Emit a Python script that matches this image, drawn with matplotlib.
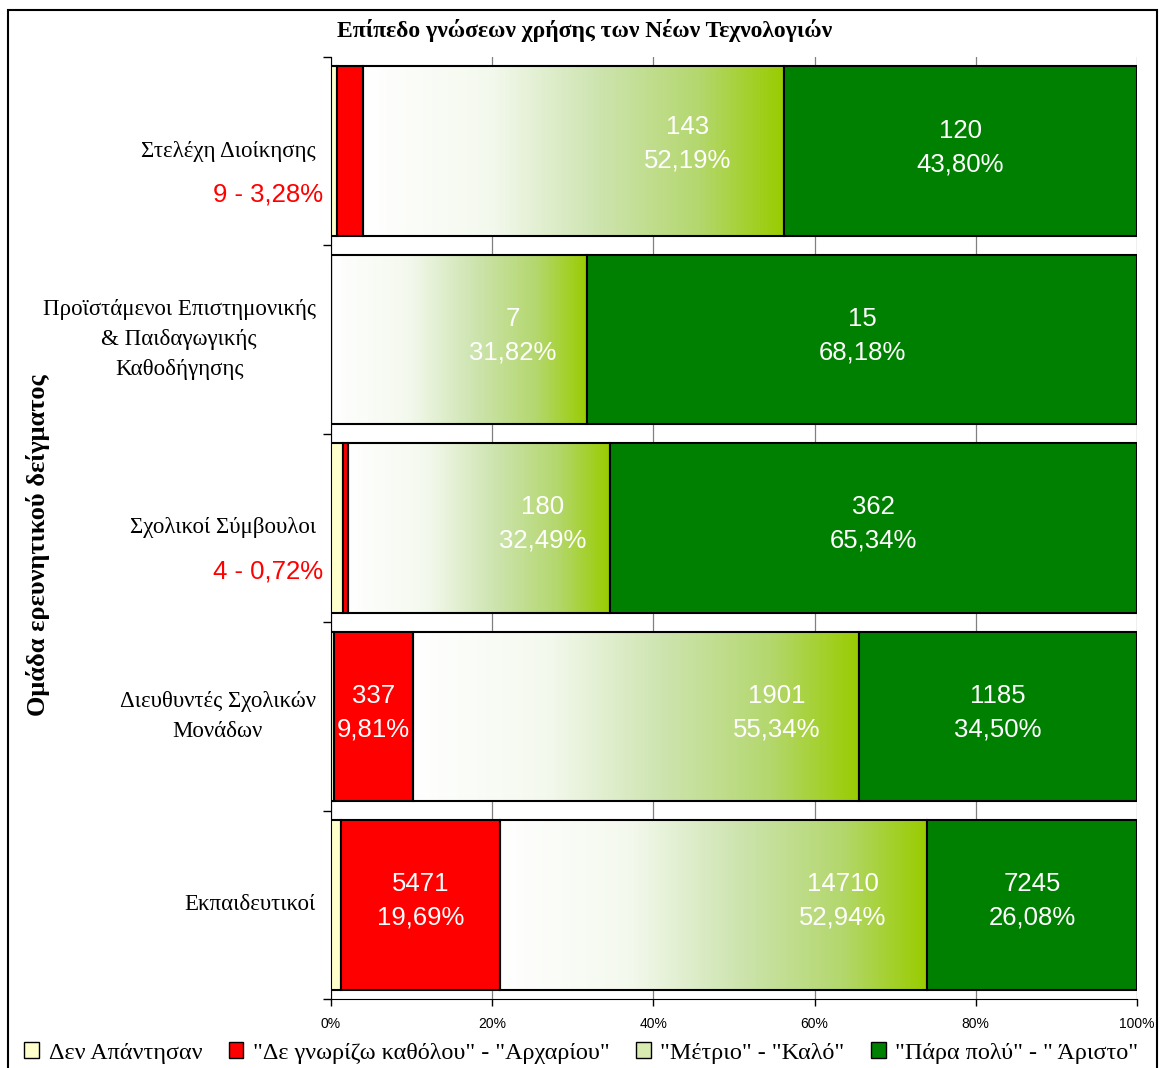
import numpy as np
import matplotlib
matplotlib.use("Agg")
import matplotlib.pyplot as plt
from matplotlib.colors import LinearSegmentedColormap
from matplotlib.patches import Patch, Rectangle

# categories, top to bottom
groups = ["Στελέχη Διοίκησης",
          "Προϊστάμενοι Επιστημονικής\n& Παιδαγωγικής\nΚαθοδήγησης",
          "Σχολικοί Σύμβουλοι",
          "Διευθυντές Σχολικών\nΜονάδων",
          "Εκπαιδευτικοί"]

# counts per answer
no_answer = [2, 0, 8, 12, 358]
beginner = [9, 0, 4, 337, 5471]
medium = [143, 7, 180, 1901, 14710]
excellent = [120, 15, 362, 1185, 7245]

series_names = ["Δεν Απάντησαν", "\"Δε γνωρίζω καθόλου\" - \"Αρχαρίου\"",
                "\"Μέτριο\" - \"Καλό\"", "\"Πάρα πολύ\" - \" Άριστο\""]

# where the "Μέτριο" labels sit (percent of bar)
medium_label_x = [44.3, 22.6, 26.3, 55.3, 63.5]
# groups where the red count is written outside the bar
outside_red = [0, 2]

counts = np.array([no_answer, beginner, medium, excellent], dtype=float)
totals = counts.sum(axis=0)
pct = counts / totals * 100

serif = "Liberation Serif"
sans = "Liberation Sans"

def fmt(v):
    return f"{v:.2f}".replace(".", ",")

fig = plt.figure(figsize=(11.63, 10.68), dpi=100)
ax = fig.add_axes([331 / 1163, 1 - 999 / 1068, 806 / 1163, 942 / 1068])

y = np.arange(len(groups))
colors = ["#FFFFCC", "#FF0000", "none", "#008000"]
left = np.zeros(len(groups))
containers = []
for i in range(4):
    bars = ax.barh(y, pct[i], left=left, height=0.9, color=colors[i],
                   edgecolor="black", linewidth=1.5, zorder=3)
    containers.append(bars)
    left += pct[i]

# gradient fill for the "Μέτριο" segments
cmap = LinearSegmentedColormap.from_list(
    "grad", [(0, "#FFFFFF"), (0.3, "#F4F9EE"), (0.56, "#CDE4AF"),
             (0.8, "#B4D76E"), (1, "#99CC00")])
grad = np.linspace(0, 1, 256)
for b in containers[2]:
    x0, y0 = b.get_x(), b.get_y()
    ax.imshow(grad.reshape(1, -1), cmap=cmap, aspect="auto",
              extent=(x0, x0 + b.get_width(), y0 + b.get_height(), y0),
              zorder=2.5, interpolation="bilinear")

ax.set_xlim(0, 100)
ax.set_ylim(len(groups) - 0.5, -0.5)

lab = dict(color="white", ha="center", va="center", fontsize=18.5,
           family=sans, zorder=5, linespacing=1.5)
for j in range(len(groups)):
    if counts[1, j] > 0 and j not in outside_red:
        b = containers[1][j]
        ax.text(b.get_x() + b.get_width() / 2, j - 0.02,
                f"{int(counts[1, j])}\n{fmt(pct[1, j])}%", **lab)
    ax.text(medium_label_x[j], j - 0.04 if j == 0 else j - 0.02,
            f"{int(counts[2, j])}\n{fmt(pct[2, j])}%", **lab)
    b = containers[3][j]
    ax.text(b.get_x() + b.get_width() / 2, j - 0.02,
            f"{int(counts[3, j])}\n{fmt(pct[3, j])}%", **lab)

for j in outside_red:
    ax.text(-0.01, j + 0.23, f"{int(counts[1, j])} - {fmt(pct[1, j])}%",
            transform=ax.get_yaxis_transform(), color="red", ha="right",
            va="center", fontsize=18.5, family=sans)

# axes styling
ax.set_yticks(np.arange(-0.5, len(groups)), labels=[])
ax.set_yticks(y, labels=groups, minor=True)
ax.tick_params(axis="y", which="major", length=6, width=1)
ax.tick_params(axis="y", which="minor", length=0, pad=11)
for t in ax.get_yticklabels(minor=True):
    t.set_fontfamily(serif)
    t.set_fontsize(16.5)
    t.set_multialignment("center")
    t.set_linespacing(1.55)
    t.set_verticalalignment("center")

ax.set_xticks(np.arange(0, 101, 20), labels=[f"{v}%" for v in range(0, 101, 20)])
ax.tick_params(axis="x", length=5, width=1, pad=8, labelsize=10)
for t in ax.get_xticklabels():
    t.set_fontfamily(sans)
ax.grid(axis="x", color="#808080", linewidth=0.9, zorder=0)
ax.set_axisbelow(True)
ax.spines["top"].set_visible(False)
ax.spines["right"].set_visible(False)

fig.text(0.503, 1 - 30 / 1068, "Επίπεδο γνώσεων χρήσης των Νέων Τεχνολογιών",
         ha="center", va="center", fontsize=17, fontweight="bold", family=serif)
fig.text(38 / 1163, 1 - 545 / 1068, "Ομάδα ερευνητικού δείγματος", rotation=90,
         ha="center", va="center", fontsize=19, fontweight="bold", family=serif)

handles = [Patch(facecolor="#FFFFCC", edgecolor="black"),
           Patch(facecolor="#FF0000", edgecolor="black"),
           Patch(facecolor="#D8EBB0", edgecolor="black"),
           Patch(facecolor="#008000", edgecolor="black")]
fig.legend(handles, series_names, loc="center", bbox_to_anchor=(0.5, 1 - 1053 / 1068),
           ncol=4, frameon=False, prop={"family": serif, "size": 17.4},
           handlelength=0.6, handleheight=0.6, handletextpad=0.4, columnspacing=1.1)

fig.patches.append(Rectangle((8 / 1163, -0.05), 1149 / 1163, 1.05 - 10 / 1068,
                             transform=fig.transFigure, fill=False,
                             edgecolor="black", linewidth=1.5))

fig.savefig("out.png", dpi=100)
